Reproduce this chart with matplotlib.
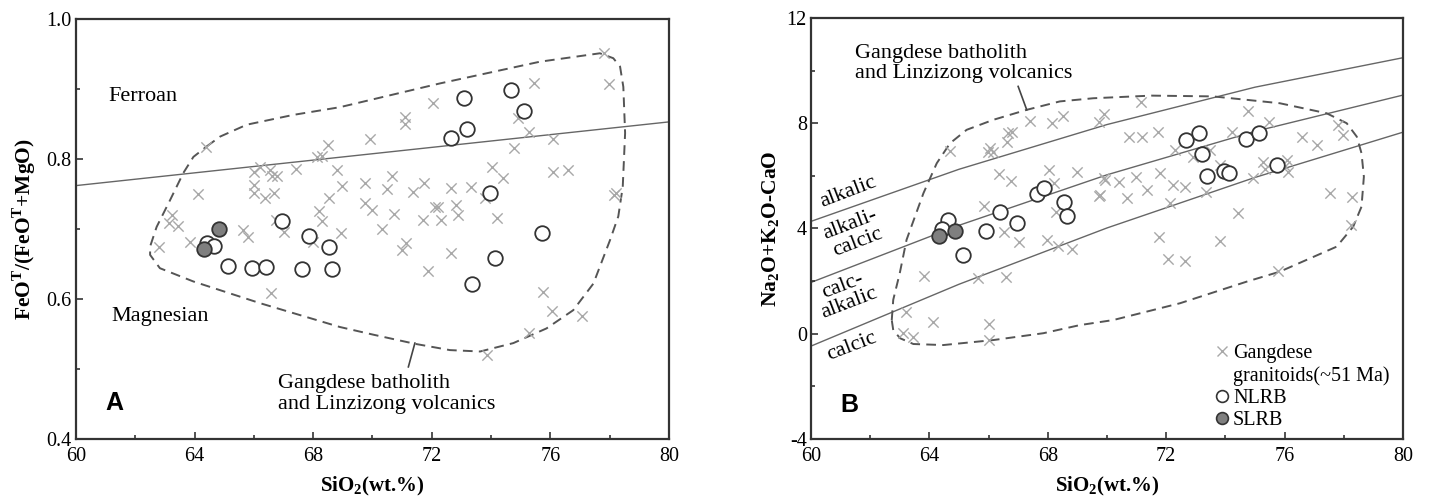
"""Ferroan/magnesian and MALI diagrams: NLRB vs SLRB vs Gangdese granitoids"""
import numpy as np
import matplotlib; matplotlib.use('Agg'); import matplotlib.pyplot as plt
from matplotlib.lines import Line2D

plt.rcParams['font.family'] = ['Liberation Serif', 'DejaVu Serif']
plt.rcParams['mathtext.fontset'] = 'custom'
plt.rcParams['mathtext.rm'] = 'Liberation Serif'
plt.rcParams['mathtext.bf'] = 'Liberation Serif:bold'
plt.rcParams['axes.unicode_minus'] = False

# ---- panel A data: SiO2 vs FeOt/(FeOt+MgO)
gang_a_x = [64.38, 71.11, 71.11, 69.92, 68.51, 68.29, 68.12, 66.21, 66.00, 66.54, 66.77, 66.60,
            67.41, 68.81, 68.98, 69.75, 70.65, 70.50, 71.36, 64.13, 66.00, 66.00, 66.37, 66.68,
            68.55, 69.75, 69.99, 70.72, 68.21, 68.29, 66.73, 70.33, 63.23, 63.15, 63.45, 62.81,
            63.84, 65.64, 65.81, 67.03, 67.98, 68.93, 71.13, 70.98, 66.57, 77.81, 75.45, 77.98,
            72.05, 74.90, 75.28, 76.10, 74.78, 74.02, 74.41, 76.10, 76.58, 71.75, 72.65, 73.31,
            73.80, 78.20, 78.15, 72.11, 72.22, 72.82, 72.90, 71.71, 72.31, 74.19, 72.65, 71.86,
            75.76, 76.04, 77.08, 75.29, 73.85]
gang_a_y = [0.817, 0.860, 0.850, 0.828, 0.820, 0.804, 0.803, 0.789, 0.782, 0.784, 0.775, 0.775,
            0.785, 0.784, 0.762, 0.765, 0.775, 0.757, 0.753, 0.750, 0.763, 0.751, 0.744, 0.751,
            0.744, 0.737, 0.727, 0.722, 0.725, 0.712, 0.713, 0.700, 0.720, 0.708, 0.704, 0.674,
            0.681, 0.699, 0.689, 0.696, 0.682, 0.694, 0.680, 0.670, 0.608, 0.951, 0.909, 0.907,
            0.880, 0.858, 0.839, 0.828, 0.816, 0.789, 0.773, 0.782, 0.784, 0.766, 0.758, 0.760,
            0.744, 0.751, 0.748, 0.732, 0.732, 0.734, 0.720, 0.713, 0.713, 0.715, 0.666, 0.640,
            0.610, 0.583, 0.575, 0.552, 0.520]
nlrb_a_x = [66.96, 67.87, 68.53, 65.12, 65.93, 66.40, 67.62, 68.62, 64.43, 64.65,
            73.10, 74.67, 75.10, 73.20, 72.65, 73.96, 75.73, 74.12, 73.35]
nlrb_a_y = [0.711, 0.690, 0.674, 0.647, 0.644, 0.646, 0.643, 0.643, 0.680, 0.676,
            0.887, 0.898, 0.868, 0.843, 0.830, 0.752, 0.694, 0.658, 0.621]
slrb_a_x = [64.83, 64.32]
slrb_a_y = [0.700, 0.671]

# ferroan / magnesian boundary
fm_x = [60, 80]
fm_y = [0.762, 0.853]

# envelope of Gangdese batholith + Linzizong volcanics (panel A)
env_a_x = [64.41, 64.86, 65.76, 67.33, 68.90, 72.28, 75.65, 77.67, 78.12, 78.35, 78.46, 78.52,
           78.44, 78.29, 78.01, 77.45, 76.77, 75.87, 74.75, 73.63, 72.61, 71.43, 70.03, 68.90,
           66.21, 63.96, 62.83, 62.50, 62.50, 62.72, 63.17, 63.62, 63.96, 64.41]
env_a_y = [0.818, 0.832, 0.849, 0.863, 0.874, 0.908, 0.939, 0.951, 0.944, 0.932, 0.903, 0.837,
           0.760, 0.718, 0.684, 0.622, 0.584, 0.558, 0.537, 0.525, 0.527, 0.536, 0.549, 0.560,
           0.594, 0.625, 0.644, 0.663, 0.675, 0.703, 0.741, 0.780, 0.803, 0.818]

# ---- panel B data: SiO2 vs Na2O+K2O-CaO
gang_b_x = [64.70, 66.05, 66.14, 65.99, 66.67, 66.78, 66.61, 67.40, 68.15, 68.52, 69.74, 69.91,
            66.36, 66.76, 68.05, 68.22, 68.98, 69.91, 69.74, 65.84, 66.53, 67.04, 68.28, 67.96,
            68.35, 68.83, 63.83, 65.63, 66.58, 63.21, 64.11, 66.02, 63.12, 63.46, 66.01,
            71.15, 74.75, 75.48, 77.82, 77.98, 70.74, 71.17, 71.71, 72.30, 72.92, 74.21, 73.48,
            73.82, 76.58, 77.10, 75.28, 75.34, 74.94, 76.07, 76.13, 76.01, 69.93, 70.41, 70.98,
            71.79, 69.76, 70.67, 71.34, 72.24, 72.64, 73.34, 72.13, 74.42, 77.53, 78.27, 78.23,
            71.76, 73.82, 72.05, 72.64, 75.79]
gang_b_y = [6.96, 7.05, 6.92, 6.89, 7.62, 7.65, 7.30, 8.10, 8.00, 8.28, 8.06, 8.35,
            6.08, 5.82, 6.23, 5.72, 6.16, 5.91, 5.24, 4.87, 3.88, 3.48, 4.64, 3.57,
            3.35, 3.22, 2.21, 2.13, 2.17, 0.84, 0.46, 0.36, 0.02, -0.11, -0.24,
            8.79, 8.48, 8.04, 7.94, 7.56, 7.49, 7.47, 7.68, 6.99, 6.71, 7.65, 6.99,
            6.42, 7.46, 7.18, 6.51, 6.25, 5.91, 6.61, 6.16, 6.38, 5.85, 5.78, 5.97,
            6.10, 5.28, 5.15, 5.47, 5.66, 5.57, 5.40, 4.98, 4.58, 5.34, 5.21, 4.14,
            3.69, 3.53, 2.83, 2.78, 2.39]
nlrb_b_x = [64.64, 64.42, 65.15, 65.92, 66.40, 66.97, 67.64, 67.88, 68.55, 68.65,
            72.68, 73.12, 73.22, 73.37, 73.95, 74.12, 74.70, 75.12, 75.75]
nlrb_b_y = [4.33, 3.97, 3.01, 3.92, 4.64, 4.22, 5.32, 5.54, 5.01, 4.48,
            7.37, 7.63, 6.85, 6.01, 6.20, 6.11, 7.41, 7.62, 6.42]
slrb_b_x = [64.32, 64.85]
slrb_b_y = [3.72, 3.92]

# MALI boundaries
mali_x = [60, 65, 70, 75, 80]
alk_y = [4.27, 6.25, 7.95, 9.37, 10.49]
alkcalc_y = [1.95, 4.12, 6.04, 7.69, 9.07]
calcalk_y = [-0.47, 1.88, 4.02, 5.94, 7.66]

env_b_x = [62.73, 62.78, 63.00, 63.23, 63.80, 64.25, 64.70, 65.26, 66.16, 67.29, 68.41, 69.54,
           71.50, 73.59, 75.84, 77.42, 78.10, 78.44, 78.60, 78.68, 78.60, 78.32, 77.76, 75.84,
           74.72, 72.47, 70.21, 69.09, 67.85, 66.16, 64.47, 63.46, 63.01, 62.78, 62.73]
env_b_y = [0.52, 1.29, 2.30, 3.57, 5.34, 6.48, 7.24, 7.75, 8.13, 8.51, 8.83, 8.95,
           9.05, 9.02, 8.76, 8.38, 8.00, 7.49, 6.86, 5.97, 4.83, 4.07, 3.31, 2.36,
           1.98, 1.16, 0.52, 0.33, 0.02, -0.24, -0.43, -0.39, -0.17, 0.14, 0.52]

FS = 14.5
TXT = 16
CROSS = dict(marker='x', s=55, c='#a8a8a8', linewidths=1.0, zorder=3)
OPEN = dict(marker='o', s=110, facecolors='white', edgecolors='#333333', linewidths=1.3, zorder=4)
FILL = dict(marker='o', s=110, facecolors='#7f7f7f', edgecolors='#333333', linewidths=1.3, zorder=5)
DASH = dict(color='#555555', lw=1.4, ls=(0, (5, 3.2)), zorder=2)


def style(ax):
    for s in ax.spines.values():
        s.set_linewidth(1.6); s.set_color('#333333')
    ax.tick_params(which='both', direction='in', labelsize=FS, width=1.2, color='#333333')
    ax.tick_params(which='major', length=5)
    ax.tick_params(which='minor', length=3)
    ax.tick_params(axis='x', pad=6)
    ax.tick_params(axis='y', pad=3)


fig = plt.figure(figsize=(14.31, 4.97), dpi=100)
axA = fig.add_axes([0.0531, 0.1167, 0.4144, 0.8451])
axB = fig.add_axes([0.5667, 0.1167, 0.4137, 0.8471])

# ---- A
axA.plot(fm_x, fm_y, color='#666666', lw=1.0, zorder=1)
axA.plot(env_a_x, env_a_y, **DASH)
axA.plot([71.43, 71.21], [0.537, 0.503], color='#444444', lw=1.2)
axA.scatter(gang_a_x, gang_a_y, **CROSS)
axA.scatter(nlrb_a_x, nlrb_a_y, **OPEN)
axA.scatter(slrb_a_x, slrb_a_y, **FILL)
axA.set_xlim(60, 80); axA.set_ylim(0.4, 1.0)
axA.set_xticks([60, 64, 68, 72, 76, 80]); axA.set_xticks([62, 66, 70, 74, 78], minor=True)
axA.set_yticks([0.4, 0.6, 0.8, 1.0]); axA.set_yticks([0.5, 0.7, 0.9], minor=True)
axA.set_yticklabels(['0.4', '0.6', '0.8', '1.0'])
style(axA)
axA.text(61.1, 0.889, 'Ferroan', fontsize=TXT, va='center')
axA.text(61.2, 0.575, 'Magnesian', fontsize=TXT, va='center')
axA.text(66.81, 0.464, 'Gangdese batholith\nand Linzizong volcanics', fontsize=TXT,
         va='center', linespacing=1.1)
axA.text(61.0, 0.451, 'A', fontsize=18, fontweight='bold', family='Liberation Sans', va='center')
axA.set_xlabel(r'SiO$_\mathbf{2}$(wt.%)', fontsize=15, fontweight='bold', labelpad=6)
axA.set_ylabel(r'FeO$^\mathbf{T}$/(FeO$^\mathbf{T}$+MgO)', fontsize=15.5, fontweight='bold', labelpad=6)

# ---- B
for yy in (alk_y, alkcalc_y, calcalk_y):
    axB.plot(mali_x, yy, color='#666666', lw=1.0, zorder=1)
axB.plot(env_b_x, env_b_y, **DASH)
axB.plot([67.0, 67.29], [9.40, 8.51], color='#444444', lw=1.2)
axB.scatter(gang_b_x, gang_b_y, **CROSS)
axB.scatter(nlrb_b_x, nlrb_b_y, **OPEN)
axB.scatter(slrb_b_x, slrb_b_y, **FILL)
axB.set_xlim(60, 80); axB.set_ylim(-4, 12)
axB.set_xticks([60, 64, 68, 72, 76, 80]); axB.set_xticks([62, 66, 70, 74, 78], minor=True)
axB.set_yticks([-4, 0, 4, 8, 12]); axB.set_yticks([-2, 2, 6, 10], minor=True)
style(axB)
axB.text(61.49, 10.26, 'Gangdese batholith\nand Linzizong volcanics', fontsize=TXT,
         va='center', linespacing=1.1)
rot = 21
axB.text(61.26, 5.37, 'alkalic', fontsize=TXT, rotation=rot, ha='center', va='center',
         rotation_mode='anchor')
axB.text(61.45, 3.79, 'alkali-\ncalcic', fontsize=TXT, rotation=rot, ha='center', va='center',
         rotation_mode='anchor', linespacing=1.0)
axB.text(61.18, 1.48, 'calc-\nalkalic', fontsize=TXT, rotation=rot, ha='center', va='center',
         rotation_mode='anchor', linespacing=1.0)
axB.text(61.37, -0.49, 'calcic', fontsize=TXT, rotation=rot, ha='center', va='center',
         rotation_mode='anchor')
axB.text(61.0, -2.7, 'B', fontsize=18, fontweight='bold', family='Liberation Sans', va='center')
axB.set_xlabel(r'SiO$_\mathbf{2}$(wt.%)', fontsize=15, fontweight='bold', labelpad=6)
axB.set_ylabel(r'Na$_\mathbf{2}$O+K$_\mathbf{2}$O-CaO', fontsize=15.5, fontweight='bold', labelpad=3)

handles = [Line2D([], [], marker='x', ls='none', color='#a8a8a8', ms=7, mew=1.0),
           Line2D([], [], ls='none'),
           Line2D([], [], marker='o', ls='none', mfc='white', mec='#333333', ms=8.5, mew=1.2),
           Line2D([], [], marker='o', ls='none', mfc='#7f7f7f', mec='#333333', ms=8.5, mew=1.2)]
labels = ['Gangdese', 'granitoids(~51 Ma)', 'NLRB', 'SLRB']
axB.legend(handles, labels, loc='lower left', bbox_to_anchor=(0.657, -0.012), frameon=False,
           fontsize=14.5, handlelength=0.8, handletextpad=0.15, labelspacing=0.15,
           borderpad=0.2)

fig.savefig('out.png', dpi=100, facecolor='white')
plt.close()
print('Saved: out.png')
